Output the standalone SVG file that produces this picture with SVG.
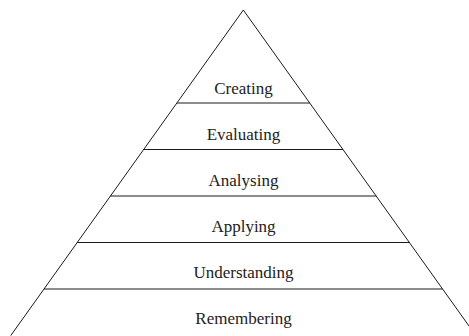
<svg xmlns="http://www.w3.org/2000/svg" width="469" height="336" viewBox="0 0 469 336">
<style>
.ln{stroke:#000;stroke-width:0.9;fill:none}
.lb{font-family:"Liberation Serif","Times New Roman",serif;font-size:17px;fill:#222;text-anchor:middle}
</style>
<rect width="469" height="336" fill="#fff"/>
<g id="outline">
<polyline class="ln" points="10.8,335.5 243.3,10 475.8,335.5"/>
</g>
<g id="connectors">
<line class="ln" x1="176.9" y1="103" x2="309.7" y2="103"/>
<line class="ln" x1="143.7" y1="149.5" x2="342.9" y2="149.5"/>
<line class="ln" x1="110.4" y1="196" x2="376.2" y2="196"/>
<line class="ln" x1="77.2" y1="242.5" x2="409.4" y2="242.5"/>
<line class="ln" x1="44.0" y1="289" x2="442.6" y2="289"/>
</g>
<g id="creating"><text class="lb" x="243.5" y="94">Creating</text></g>
<g id="evaluating"><text class="lb" x="243.5" y="140">Evaluating</text></g>
<g id="analysing"><text class="lb" x="243.5" y="186">Analysing</text></g>
<g id="applying"><text class="lb" x="243.5" y="232">Applying</text></g>
<g id="understanding"><text class="lb" x="243.5" y="278">Understanding</text></g>
<g id="remembering"><text class="lb" x="243.5" y="324">Remembering</text></g>
</svg>
